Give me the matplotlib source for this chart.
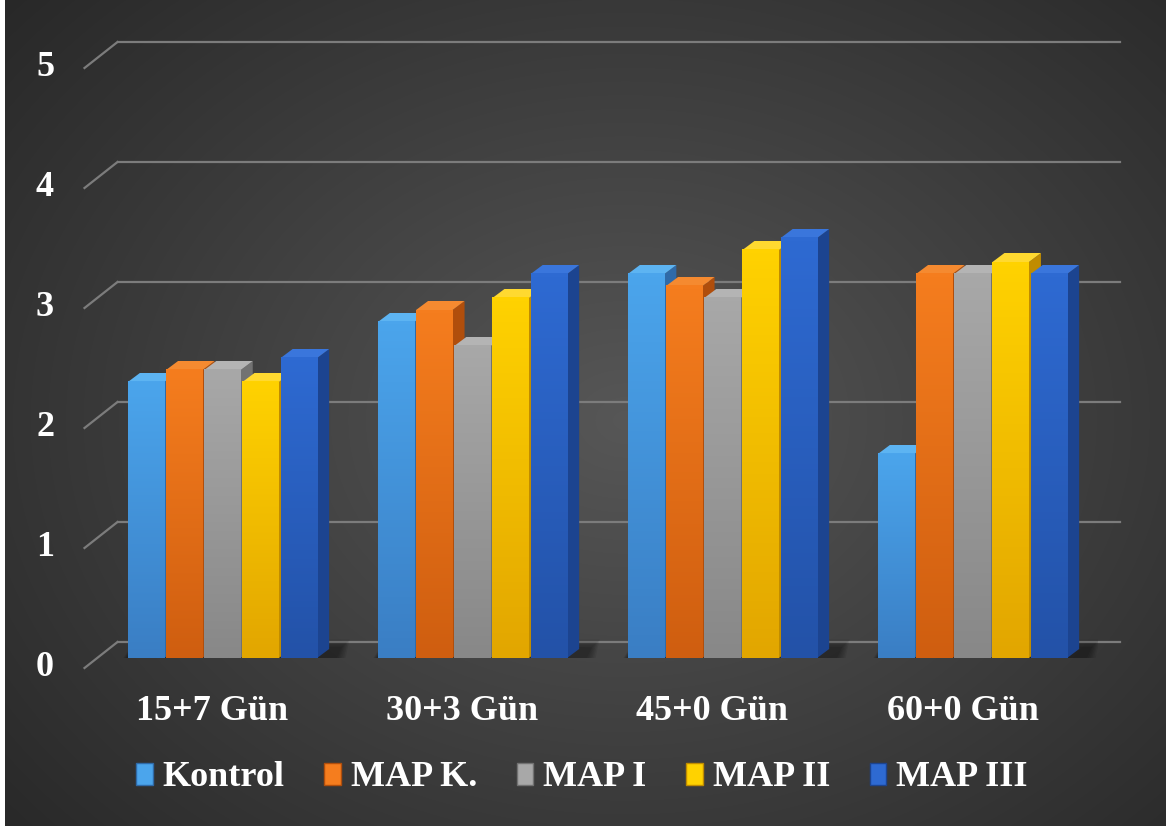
import numpy as np
import matplotlib
matplotlib.use('Agg')
import matplotlib.pyplot as plt
import matplotlib.transforms as mtransforms
from matplotlib.colors import LinearSegmentedColormap
from matplotlib.patches import Polygon, Patch

categories = ['15+7 Gün', '30+3 Gün', '45+0 Gün', '60+0 Gün']
series = ['Kontrol', 'MAP K.', 'MAP I', 'MAP II', 'MAP III']
kontrol = [2.3, 2.8, 3.2, 1.7]
map_k = [2.4, 2.9, 3.1, 3.2]
map_1 = [2.4, 2.6, 3.0, 3.2]
map_2 = [2.3, 3.0, 3.4, 3.3]
map_3 = [2.5, 3.2, 3.5, 3.2]
y_ticks = [0, 1, 2, 3, 4, 5]

values = [kontrol, map_k, map_1, map_2, map_3]
# (top of front face, bottom of front face, side, top face)
colors = [
    ('#4ba5ec', '#3a7ec4', '#2f6aa8', '#5db4f2'),
    ('#f57d1e', '#cf5e10', '#b04e0c', '#f58a30'),
    ('#a8a8a8', '#888888', '#727272', '#b4b4b4'),
    ('#ffd200', '#e2a600', '#c08c00', '#ffd930'),
    ('#2e6ad2', '#2352a8', '#1c4490', '#3a76dc'),
]

W, H = 1169, 827
fig = plt.figure(figsize=(W / 100, H / 100), dpi=100, facecolor='white')

# radial gradient background (thin white margin left/right/bottom)
bg = fig.add_axes([5 / W, 1 / H, 1161 / W, 826 / H])
bg.axis('off')
bh, bw_ = 826, 1161
yy, xx = np.mgrid[0:bh, 0:bw_]
r = np.sqrt(((xx - 620) / 720.0) ** 2 + ((yy - 420) / 560.0) ** 2)
g = np.clip(0.34 - 0.16 * r, 0.15, 0.4)
img = np.dstack([g, g, g])
bg.imshow(img, extent=[0, 1, 0, 1], aspect='auto', interpolation='bilinear')
bg.set_xlim(0, 1)
bg.set_ylim(0, 1)

ax = fig.add_axes([97.5 / W, (H - 658) / H, 1000 / W, 600 / H])
ax.axis('off')
ax.patch.set_alpha(0)

pxx = 1 / 250.0   # data units per pixel (x)
pxy = 1 / 120.0   # data units per pixel (y)
grid_col = '#7c7c7c'

# gridlines on back wall + diagonal on the side
for v in y_ticks:
    ax.plot([-0.5 + 20 * pxx, 3.51 + 20 * pxx], [v + 16 * pxy, v + 16 * pxy],
            color=grid_col, lw=1.6, zorder=1, clip_on=False)
    ax.plot([-0.5 - 13 * pxx, -0.5 + 20 * pxx], [v - 10 * pxy, v + 16 * pxy],
            color=grid_col, lw=1.6, zorder=1, clip_on=False)

slot = 0.1528
bw = 0.146
dx, dy = 12 * pxx, 9 * pxy
x = np.arange(len(categories))

# soft floor shadow
for gi in x:
    x0 = gi - 2.5 * slot
    x1 = gi + 2.5 * slot + dx
    for k in range(6):
        e = k * 1.5
        ax.add_patch(Polygon([[x0 - (e + 2) * pxx, -(e + 2) * pxy], [x1 + (e + 6) * pxx, -(e + 2) * pxy],
                              [x1 + (e + 12) * pxx, dy + (e + 2) * pxy], [x0 + 8 * pxx, dy + (e + 2) * pxy]],
                             closed=True, facecolor='black', alpha=0.07, lw=0, zorder=2))

z = 3
for i, vals in enumerate(values):
    top_c, bot_c, side_c, cap_c = colors[i]
    cmap = LinearSegmentedColormap.from_list('g%d' % i, [bot_c, top_c])
    bars = ax.bar(x + (i - 2) * slot, vals, width=bw, color=top_c, lw=0, zorder=z + 2)
    for b in bars:
        x0, h, w = b.get_x(), b.get_height(), b.get_width()
        x1 = x0 + w
        ax.add_patch(Polygon([[x1, 0], [x1 + dx, dy], [x1 + dx, h + dy], [x1, h]],
                             closed=True, facecolor=side_c, lw=0, zorder=z))
        ax.add_patch(Polygon([[x0, h], [x1, h], [x1 + dx, h + dy], [x0 + dx, h + dy]],
                             closed=True, facecolor=cap_c, lw=0, zorder=z + 1))
        grad = np.linspace(0, 1, 100).reshape(-1, 1)
        ax.imshow(grad, cmap=cmap, origin='lower', aspect='auto',
                  extent=[x0, x1, 0, h], zorder=z + 3)
    z += 4

ax.set_xlim(-0.5, 3.5)
ax.set_ylim(0, 5)

font = dict(family='Liberation Serif', weight='bold', size=26, color='white')

# y labels on the front edge
ytrans = mtransforms.blended_transform_factory(fig.transFigure, ax.transData) + \
    mtransforms.ScaledTranslation(0, -0.10, fig.dpi_scale_trans)
for v in y_ticks:
    ax.text(45 / W, v, str(v), transform=ytrans, ha='center', va='center', **font)

# category labels
for gi, lab in zip(x, categories):
    ax.text(gi - 10 * pxx, -54 * pxy, lab, ha='center', va='center', **font)

handles = [Patch(facecolor=c[0], edgecolor=c[2], lw=1) for c in colors]
fig.legend(handles, series, loc='center', bbox_to_anchor=(582 / W, 1 - 778 / H),
           ncol=5, frameon=False,
           prop=dict(family='Liberation Serif', weight='bold', size=26),
           labelcolor='white', handlelength=0.45, handleheight=0.55,
           handletextpad=0.28, columnspacing=1.1)

fig.savefig('out.png', dpi=100, facecolor='white')
